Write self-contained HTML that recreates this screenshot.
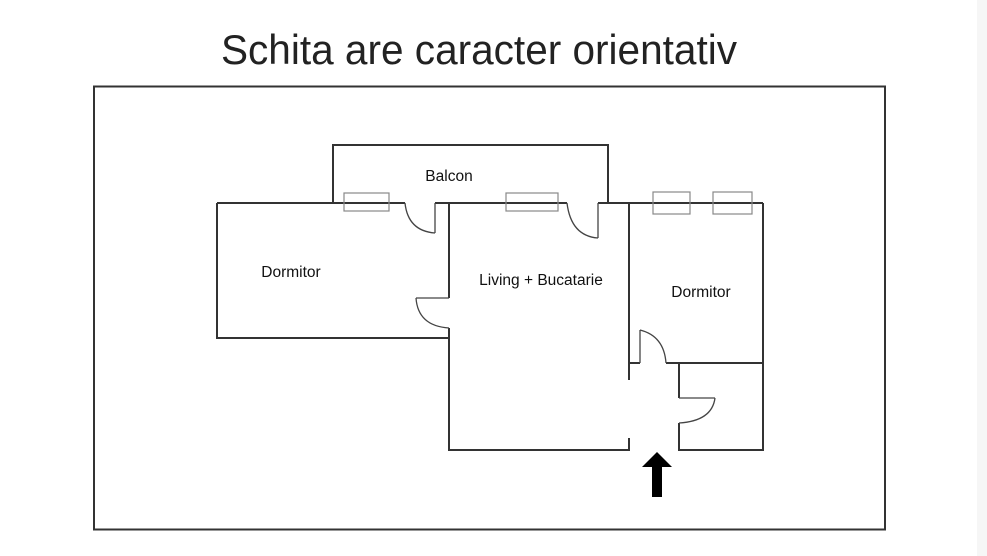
<!DOCTYPE html>
<html><head><meta charset="utf-8"><style>
html,body{margin:0;padding:0;background:#fff;}
body{width:987px;height:556px;overflow:hidden;position:relative;}
</style></head><body>
<svg width="987" height="556" viewBox="0 0 987 556" xmlns="http://www.w3.org/2000/svg" style="position:absolute;left:0;top:0">
<rect x="977" y="0" width="10" height="556" fill="#f6f6f6"/>
<text x="221" y="64" font-family="Liberation Sans, sans-serif" font-size="42" fill="#222" textLength="516" lengthAdjust="spacingAndGlyphs">Schita are caracter orientativ</text>
<rect x="94" y="86.5" width="791" height="443" fill="none" stroke="#333" stroke-width="2"/>
<g fill="none" stroke="#333" stroke-width="2">
<polyline points="333,203 333,145 608,145 608,203"/>
<line x1="217" y1="203" x2="405" y2="203"/>
<line x1="435" y1="203" x2="567" y2="203"/>
<line x1="598" y1="203" x2="763" y2="203"/>
<polyline points="217,203 217,338 449,338"/>
<line x1="449" y1="203" x2="449" y2="298"/>
<line x1="449" y1="328" x2="449" y2="451"/>
<line x1="449" y1="450" x2="629" y2="450"/>
<line x1="629" y1="203" x2="629" y2="380"/>
<line x1="629" y1="438" x2="629" y2="451"/>
<line x1="763" y1="203" x2="763" y2="451"/>
<line x1="629" y1="363" x2="640" y2="363"/>
<line x1="666" y1="363" x2="763" y2="363"/>
<line x1="679" y1="363" x2="679" y2="398"/>
<line x1="679" y1="423" x2="679" y2="451"/>
<line x1="679" y1="450" x2="763" y2="450"/>
</g>
<g fill="none" stroke="#444" stroke-width="1.3">
<line x1="435" y1="203" x2="435" y2="233"/>
<path d="M405,203 Q408,231 435,233"/>
<line x1="598" y1="203" x2="598" y2="238"/>
<path d="M567,203 Q571,236 598,238"/>
<line x1="416" y1="298" x2="449" y2="298"/>
<path d="M416,298 Q418,326 449,328"/>
<line x1="640" y1="330" x2="640" y2="363"/>
<path d="M640,330 Q664,336 666,363"/>
<line x1="679" y1="398" x2="715" y2="398"/>
<path d="M715,398 Q712,421 679,423"/>
</g>
<g fill="none" stroke="#888" stroke-width="1.2">
<rect x="344" y="193" width="45" height="18"/>
<rect x="506" y="193" width="52" height="18"/>
<rect x="653" y="192" width="37" height="22"/>
<rect x="713" y="192" width="39" height="22"/>
</g>
<polygon points="657,452 672,467 662,467 662,497 652,497 652,467 642,467" fill="#000"/>
<g font-family="Liberation Sans, sans-serif" font-size="15.5" fill="#111" text-anchor="middle">
<text x="449" y="181">Balcon</text>
<text x="291" y="277">Dormitor</text>
<text x="541" y="285">Living + Bucatarie</text>
<text x="701" y="297">Dormitor</text>
</g>
</svg>
</body></html>
